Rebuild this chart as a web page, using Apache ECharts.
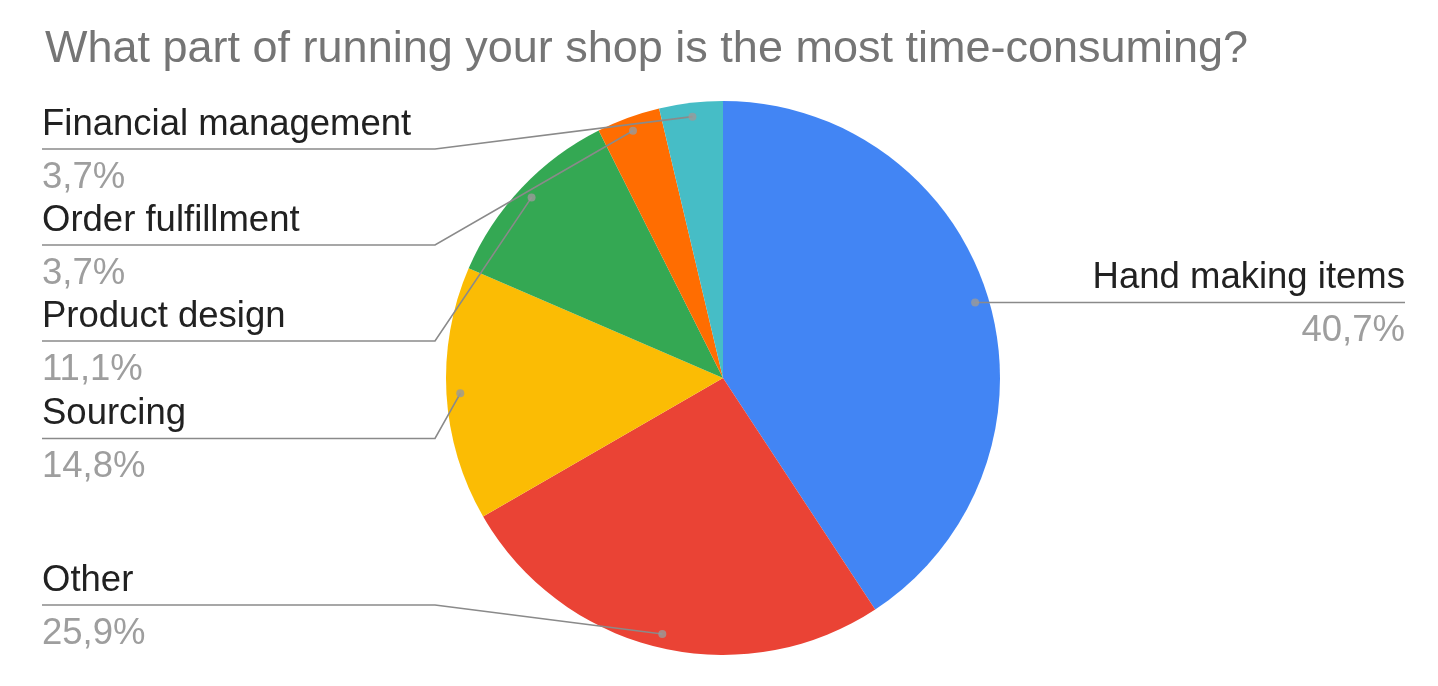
<!DOCTYPE html>
<html>
<head>
<meta charset="utf-8">
<script src="https://cdn.jsdelivr.net/npm/echarts@6/dist/echarts.min.js"></script>
<style>
html,body{margin:0;padding:0;background:#fff;}
#chart{width:1438px;height:686px;}
</style>
</head>
<body>
<div id="chart"></div>
<script>
const titleText = 'What part of running your shop is the most time-consuming?';
const categories = ['Hand making items', 'Other', 'Sourcing', 'Product design', 'Order fulfillment', 'Financial management'];
const values = [11, 7, 4, 3, 1, 1];
const colors = ['#4285F4', '#EA4335', '#FBBC04', '#34A853', '#FF6D01', '#46BDC6'];

const FONT = "'Liberation Sans', Arial, sans-serif";
const CX = 723, CY = 378, R = 277;
const DOT_RATIO = 0.95;
const TOP = CY - R;
const LH = 47;
const FS = 36.5;

const total = values.reduce((a, b) => a + b, 0);
let cum = 0;
const dotData = values.map(v => { const mid = cum + v / 2; cum += v; return [DOT_RATIO, mid]; });

const pieBase = {
  type: 'pie',
  left: 0, top: TOP, width: 1447, height: 2 * R - 2,
  center: [CX, R], radius: R,
  startAngle: 90, clockwise: true,
  emphasis: { disabled: true },
  silent: true
};

const chart = echarts.init(document.getElementById('chart'));
chart.setOption({
  animation: false,
  title: {
    text: titleText, left: 40, top: 22,
    textStyle: { fontFamily: FONT, fontSize: 45, fontWeight: 'normal', color: '#757575' }
  },
  polar: { center: [CX, CY], radius: R },
  angleAxis: { type: 'value', min: 0, max: total, startAngle: 90, clockwise: true, show: false },
  radiusAxis: { type: 'value', min: 0, max: 1, show: false },
  series: [Object.assign({}, pieBase, {
    z: 1,
    data: categories.map((c, i) => ({ name: c, value: values[i], itemStyle: { color: colors[i] } })),
    label: { show: false },
    labelLine: { show: false }
  }), Object.assign({}, pieBase, {
    z: 3,
    avoidLabelOverlap: true,
    itemStyle: { color: 'rgba(0,0,0,0)', borderWidth: 0 },
    data: categories.map((c, i) => ({ name: c, value: values[i] })),
    label: {
      show: true, position: 'outer', alignTo: 'edge', edgeDistance: 42,
      fontFamily: FONT, fontSize: FS, lineHeight: LH,
      formatter: p => '{n|' + p.name + '}\n{p|' + p.percent.toFixed(1).replace('.', ',') + '%}',
      rich: {
        n: { fontFamily: FONT, fontSize: FS, color: '#212121', lineHeight: LH, padding: [0, 0, 2, 0] },
        p: { fontFamily: FONT, fontSize: FS, color: '#9e9e9e', lineHeight: LH, padding: [10, 0, 0, 0] }
      }
    },
    labelLine: { show: true, showAbove: true, length: 0, length2: 0, lineStyle: { color: '#8a8a8a', width: 1.6 } },
    labelLayout: function (p) {
      const pts = p.labelLinePoints;
      if (!pts) return {};
      const sx = pts[0][0] - CX, sy = pts[0][1] - CY;
      const d = Math.sqrt(sx * sx + sy * sy) || 1;
      const k = R * DOT_RATIO / d;
      const p0 = [CX + sx * k, CY + sy * k];
      const r = p.labelRect;
      const isLeft = r.x + r.width / 2 < CX;
      if (isLeft) {
        const y = r.y + r.height / 2;
        return { labelLinePoints: [p0, [CX - R - 11, y], [r.x, y]] };
      }
      return { y: p0[1], labelLinePoints: [p0, [p0[0], p0[1]], [r.x + r.width, p0[1]]] };
    }
  }), {
    type: 'scatter', coordinateSystem: 'polar', symbol: 'circle', symbolSize: 8,
    itemStyle: { color: '#9a9a9a' }, silent: true, z: 5,
    data: dotData
  }]
});
</script>
</body>
</html>
